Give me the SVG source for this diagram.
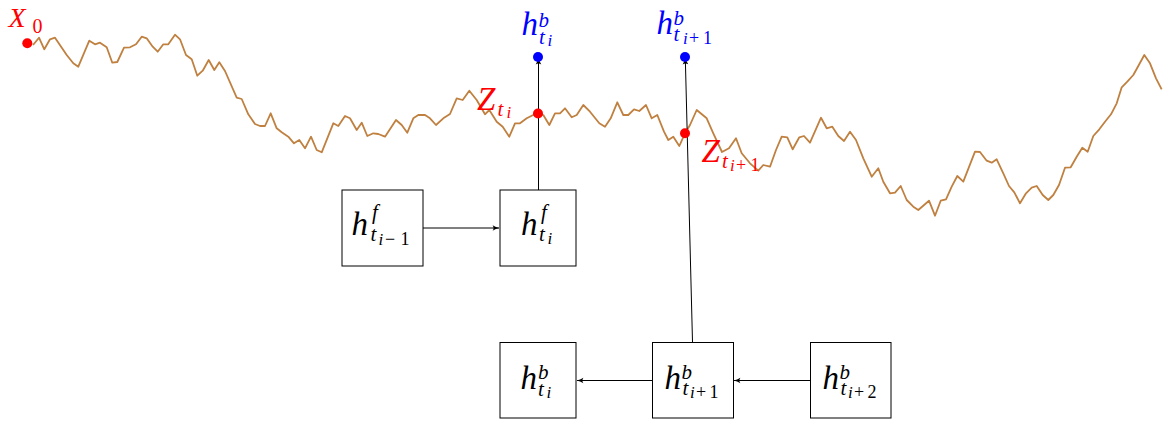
<svg xmlns="http://www.w3.org/2000/svg" width="1166" height="421" viewBox="0 0 1166 421">
<style>
.box{fill:#fff;stroke:#000;stroke-width:1}
.con{fill:none;stroke:#000;stroke-width:1}
text{font-family:"Liberation Serif","Times New Roman",serif}
.m{font-style:italic;font-size:33px}
.mx{font-style:italic;font-size:28px}
.s{font-style:italic;font-size:21px}
.ss{font-style:italic;font-size:17px}
.up{font-style:normal;font-size:18px}
.us{font-style:normal;font-size:20px}
.red{fill:#ff0000}
.blue{fill:#0000ff}
</style>
<defs>
<marker id="ah" viewBox="0 0 10 10" refX="9" refY="5" markerWidth="8" markerHeight="8" markerUnits="userSpaceOnUse" orient="auto">
<path d="M1,1.5 Q5,4.2 9.5,5 Q5,5.8 1,8.5 Q3.5,5 1,1.5 Z" fill="#000"/>
</marker>
</defs>
<g id="path-curve">
<path fill="none" stroke="#bf8040" stroke-width="1.8" stroke-linejoin="round" d="M33,45 L39,37.7 44.3,49.3 50,39.3 55,37.7 66.7,55 73.3,63.3 78.3,66.7 89.3,40.7 95,44.3 100,42.7 106.7,47.3 112.3,62.7 117.3,62 124,47.7 130,47.3 136,44.3 141.7,36.7 146.7,38.3 152.7,46.7 157.7,51.7 163.3,44.3 168.3,44.3 175,34.7 180,39.3 186,55 191.7,59.3 197.3,75.7 202.7,70.7 208.7,60 214.3,70 219.3,62.3 225,71 236.7,97.7 241.7,99 248.3,114.3 255,124 260,126 265,126 270.7,113.3 276.7,128.3 281.7,132.3 288.3,136.7 294,143.3 299.3,140 305,148.3 311,136.7 316.7,150 321.7,152.3 333.3,123.3 338.3,126 345,116 350,118.3 356.7,130 361.7,122.7 367.3,136 373.3,133.3 378.3,134 385,136.7 396,120 401.7,125 407.3,132.7 413.3,118.3 418.3,115 425,115 430,118.3 436,125 443.3,118.3 450,114 456.7,98.3 462.7,100 469.3,90.7 476.7,100 485,114.3 489.3,110 496.7,121.7 502.7,126.7 509.3,136.7 515,123.3 520,123.3 526.7,118.3 536.7,113.3 543.3,115 549.3,125 555,113.3 560,113.3 565,108.3 571.7,117.3 576.7,115 583.3,105 590,111.7 599.3,123.3 605,126.7 610.7,118.3 617.3,102.3 623.3,115 628.3,115 634,109.3 639.3,111 646,105 651.7,118.3 657.3,115 664,131.7 668.3,140 673.3,136.7 679.3,146 685,133.3 690,125 696.7,110 706.7,118.3 713.3,133.3 722,152 729,148.3 736,138.3 741.7,153.3 750,163.3 758.3,170.7 763.3,165 770,166.7 776,150 781.7,136.7 787.3,137.3 792.7,149.3 799.3,137.3 804,136 810,142.7 821,117.7 826.7,128.3 832.3,126.7 838.3,136 844,141 850,131.7 856,140 863.3,158.3 871.7,176.7 878.3,168.3 883.3,181.7 890,193.3 895,192.7 900.7,186 906.7,200 913.3,206.7 918.3,210 929,200.7 935,215.7 940.7,200.7 946,199.3 951.7,186.7 957.3,176 963.3,181.7 975,151.7 980,152 986.7,160.7 991.7,162.7 996.7,159.3 1003.3,173.3 1009,186 1014.3,192.3 1020,203.3 1026,193.3 1031.7,187.7 1036.7,186 1042.7,195 1048.3,200 1053.3,195 1059,185 1065,167.7 1070.7,167.3 1076.7,156.7 1082.3,147.7 1087.7,151.7 1093.3,136 1099.3,129.3 1105,121.7 1111,114.3 1116.7,103.3 1121.7,87.3 1127.3,81.7 1133.3,75 1138.3,66 1144.3,55 1150,63.3 1156,78.3 1161.7,89.3"/>
</g>
<g id="connectors">
<line class="con" x1="423" y1="228" x2="499" y2="228" marker-end="url(#ah)"/>
<line class="con" x1="538.5" y1="190" x2="538.5" y2="58" marker-end="url(#ah)"/>
<line class="con" x1="692.5" y1="342" x2="685.3" y2="58" marker-end="url(#ah)"/>
<line class="con" x1="652" y1="380.5" x2="577" y2="380.5" marker-end="url(#ah)"/>
<line class="con" x1="810" y1="380.5" x2="734" y2="380.5" marker-end="url(#ah)"/>
</g>
<g id="x0">
<circle cx="27.3" cy="43.3" r="5" class="red"/>
<text class="red"><tspan class="mx" x="8.5" y="27.3">X</tspan><tspan class="us" x="32.5" y="33.3">0</tspan></text>
</g>
<g id="z-ti">
<circle cx="538" cy="113.5" r="5" class="red"/>
<text class="red"><tspan class="m" x="477" y="110">Z</tspan><tspan class="s" x="497.5" y="116">t</tspan><tspan class="ss" x="506.5" y="118">i</tspan></text>
</g>
<g id="z-ti1">
<circle cx="685" cy="133.3" r="5" class="red"/>
<text class="red"><tspan class="m" x="701.5" y="161.5">Z</tspan><tspan class="s" x="722" y="168">t</tspan><tspan class="ss" x="730" y="170.5">i</tspan><tspan class="up" x="736" y="170.5">+</tspan><tspan class="up" x="750.5" y="170.5">1</tspan></text>
</g>
<g id="hb-ti-top">
<circle cx="538" cy="57" r="5" class="blue"/>
<text class="blue"><tspan class="m" x="521.5" y="35">h</tspan><tspan class="s" x="538.5" y="27">b</tspan><tspan class="s" x="539" y="43.5">t</tspan><tspan class="ss" x="547.5" y="46">i</tspan></text>
</g>
<g id="hb-ti1-top">
<circle cx="685" cy="57" r="5" class="blue"/>
<text class="blue"><tspan class="m" x="656.5" y="34">h</tspan><tspan class="s" x="673.5" y="24.5">b</tspan><tspan class="s" x="673.5" y="41">t</tspan><tspan class="ss" x="683" y="43.5">i</tspan><tspan class="up" x="689" y="43.5">+</tspan><tspan class="up" x="703" y="43.5">1</tspan></text>
</g>
<g id="hf-ti-1">
<rect class="box" x="342" y="190" width="81" height="76"/>
<text><tspan class="m" x="351.5" y="235">h</tspan><tspan class="s" x="372" y="219">f</tspan><tspan class="s" x="370.5" y="240.5">t</tspan><tspan class="ss" x="378.5" y="245">i</tspan><tspan class="up" x="385" y="245">−</tspan><tspan class="up" x="400.5" y="245">1</tspan></text>
</g>
<g id="hf-ti">
<rect class="box" x="500" y="190" width="76" height="76"/>
<text><tspan class="m" x="521" y="235">h</tspan><tspan class="s" x="541" y="219">f</tspan><tspan class="s" x="539" y="240.5">t</tspan><tspan class="ss" x="547.5" y="243.5">i</tspan></text>
</g>
<g id="hb-ti">
<rect class="box" x="500" y="342.5" width="76" height="75.5"/>
<text><tspan class="m" x="520.5" y="389">h</tspan><tspan class="s" x="538" y="379">b</tspan><tspan class="s" x="538" y="395.5">t</tspan><tspan class="ss" x="546.5" y="398">i</tspan></text>
</g>
<g id="hb-ti1">
<rect class="box" x="652.5" y="342.5" width="81" height="75.5"/>
<text><tspan class="m" x="664.5" y="388.5">h</tspan><tspan class="s" x="681.5" y="379">b</tspan><tspan class="s" x="682.5" y="395">t</tspan><tspan class="ss" x="690" y="397.5">i</tspan><tspan class="up" x="696" y="397.5">+</tspan><tspan class="up" x="709.5" y="397.5">1</tspan></text>
</g>
<g id="hb-ti2">
<rect class="box" x="810.5" y="342.5" width="80.5" height="75.5"/>
<text><tspan class="m" x="822.5" y="388.5">h</tspan><tspan class="s" x="839.5" y="379">b</tspan><tspan class="s" x="840.5" y="395">t</tspan><tspan class="ss" x="848" y="397.5">i</tspan><tspan class="up" x="854" y="397.5">+</tspan><tspan class="up" x="867.5" y="397.5">2</tspan></text>
</g>
</svg>
